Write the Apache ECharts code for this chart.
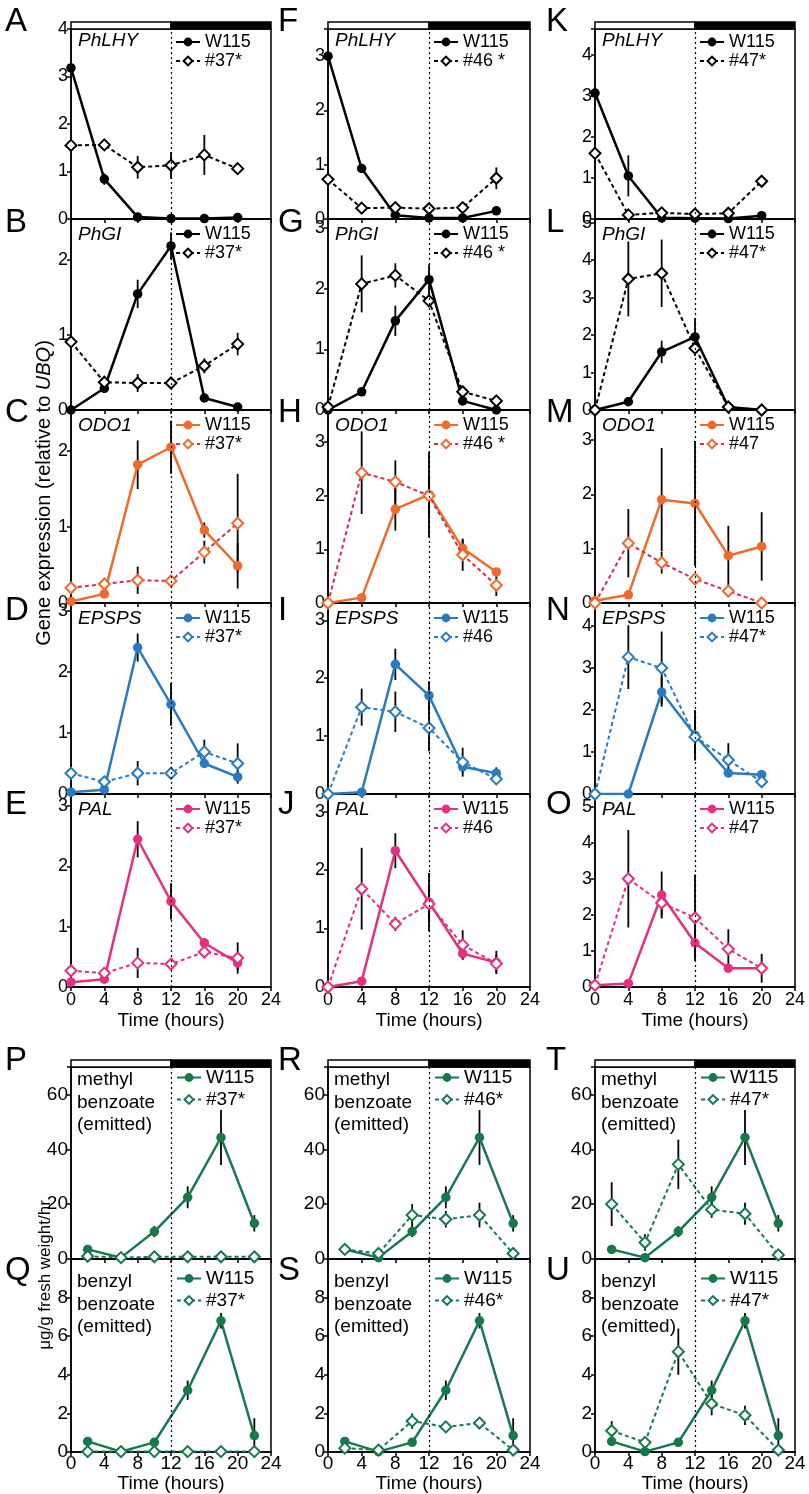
<!DOCTYPE html>
<html><head><meta charset="utf-8">
<script src="https://cdn.jsdelivr.net/npm/echarts/dist/echarts.min.js"></script>
<style>html,body{margin:0;padding:0;background:#fff}#c{width:809px;height:1494px}</style>
</head><body><div id="c"></div>
<script>
const FONT = "'Liberation Sans', Arial, Helvetica, sans-serif";

// ---------- data ----------
const hours = [0, 4, 8, 12, 16, 20];
const emitHours = [2, 6, 10, 14, 18, 22];
const xTicks = [0, 4, 8, 12, 16, 20, 24];
const dayNight = [0, 12, 24];

// A PhLHY #37*
const A_W115 = [3.18, 0.84, 0.04, 0.01, 0.01, 0.03];
const A_W115_err = [0.04, 0.12, 0.02, 0.01, 0.01, 0.02];
const A_MUT = [1.55, 1.56, 1.09, 1.13, 1.35, 1.06];
const A_MUT_err = [0.03, 0.05, 0.24, 0.28, 0.42, 0.05];
// B PhGI #37*
const B_W115 = [0.0, 0.29, 1.55, 2.19, 0.16, 0.04];
const B_W115_err = [0.01, 0.05, 0.19, 0.18, 0.03, 0.02];
const B_MUT = [0.91, 0.37, 0.36, 0.36, 0.59, 0.88];
const B_MUT_err = [0.03, 0.05, 0.12, 0.06, 0.1, 0.15];
// C ODO1 #37*
const C_W115 = [0.02, 0.12, 1.82, 2.05, 0.96, 0.49];
const C_W115_err = [0.01, 0.03, 0.32, 0.35, 0.1, 0.3];
const C_MUT = [0.2, 0.25, 0.3, 0.29, 0.67, 1.05];
const C_MUT_err = [0.02, 0.03, 0.18, 0.03, 0.15, 0.65];
// D EPSPS #37*
const D_W115 = [0.03, 0.07, 2.4, 1.47, 0.5, 0.28];
const D_W115_err = [0.01, 0.02, 0.23, 0.35, 0.07, 0.08];
const D_MUT = [0.34, 0.2, 0.34, 0.34, 0.69, 0.5];
const D_MUT_err = [0.03, 0.03, 0.2, 0.05, 0.2, 0.33];
// E PAL #37*
const E_W115 = [0.08, 0.13, 2.45, 1.42, 0.73, 0.4];
const E_W115_err = [0.02, 0.02, 0.3, 0.3, 0.08, 0.12];
const E_MUT = [0.27, 0.23, 0.4, 0.38, 0.58, 0.48];
const E_MUT_err = [0.02, 0.03, 0.25, 0.05, 0.1, 0.26];
// F PhLHY #46*
const F_W115 = [3.0, 0.93, 0.07, 0.02, 0.02, 0.15];
const F_W115_err = [0.03, 0.05, 0.02, 0.01, 0.01, 0.03];
const F_MUT = [0.73, 0.2, 0.21, 0.19, 0.21, 0.75];
const F_MUT_err = [0.03, 0.03, 0.03, 0.03, 0.05, 0.2];
// G PhGI #46*
const G_W115 = [0.0, 0.3, 1.47, 2.15, 0.15, 0.0];
const G_W115_err = [0.01, 0.03, 0.25, 0.25, 0.03, 0.01];
const G_MUT = [0.05, 2.08, 2.22, 1.8, 0.3, 0.15];
const G_MUT_err = [0.02, 0.47, 0.2, 0.08, 0.05, 0.08];
// H ODO1 #46*
const H_W115 = [0.0, 0.1, 1.75, 2.02, 1.02, 0.58];
const H_W115_err = [0.01, 0.02, 0.4, 0.8, 0.17, 0.05];
const H_MUT = [0.0, 2.43, 2.26, 2.0, 0.9, 0.33];
const H_MUT_err = [0.01, 0.77, 0.4, 0.38, 0.3, 0.2];
// I EPSPS #46
const I_W115 = [0.0, 0.03, 2.24, 1.7, 0.47, 0.36];
const I_W115_err = [0.01, 0.01, 0.27, 0.25, 0.1, 0.1];
const I_MUT = [0.0, 1.5, 1.42, 1.14, 0.55, 0.26];
const I_MUT_err = [0.01, 0.32, 0.35, 0.4, 0.25, 0.1];
// J PAL #46
const J_W115 = [0.0, 0.1, 2.33, 1.45, 0.57, 0.42];
const J_W115_err = [0.01, 0.02, 0.3, 0.5, 0.1, 0.2];
const J_MUT = [0.0, 1.68, 1.08, 1.42, 0.72, 0.4];
const J_MUT_err = [0.01, 0.7, 0.12, 0.3, 0.25, 0.15];
// K PhLHY #47*
const K_W115 = [3.07, 1.05, 0.03, 0.02, 0.01, 0.08];
const K_W115_err = [0.04, 0.5, 0.02, 0.01, 0.01, 0.03];
const K_MUT = [1.6, 0.1, 0.15, 0.12, 0.14, 0.92];
const K_MUT_err = [0.05, 0.03, 0.03, 0.03, 0.03, 0.05];
// L PhGI #47*
const L_W115 = [0.0, 0.22, 1.55, 1.95, 0.08, 0.0];
const L_W115_err = [0.01, 0.03, 0.3, 0.5, 0.03, 0.01];
const L_MUT = [0.0, 3.5, 3.65, 1.65, 0.08, 0.0];
const L_MUT_err = [0.01, 1.0, 0.9, 0.2, 0.03, 0.01];
// M ODO1 #47
const M_W115 = [0.04, 0.15, 1.9, 1.83, 0.87, 1.04];
const M_W115_err = [0.01, 0.03, 0.95, 1.15, 0.55, 0.63];
const M_MUT = [0.0, 1.1, 0.74, 0.44, 0.22, 0.0];
const M_MUT_err = [0.01, 0.63, 0.2, 0.05, 0.05, 0.01];
// N EPSPS #47*
const N_W115 = [0.0, 0.0, 2.43, 1.4, 0.5, 0.46];
const N_W115_err = [0.01, 0.01, 0.35, 0.6, 0.1, 0.1];
const N_MUT = [0.0, 3.26, 3.0, 1.36, 0.81, 0.29];
const N_MUT_err = [0.01, 0.76, 0.87, 0.4, 0.4, 0.1];
// O PAL #47
const O_W115 = [0.05, 0.1, 2.55, 1.22, 0.52, 0.52];
const O_W115_err = [0.01, 0.02, 0.65, 0.4, 0.05, 0.05];
const O_MUT = [0.05, 3.0, 2.33, 1.92, 1.05, 0.52];
const O_MUT_err = [0.01, 1.35, 0.35, 1.2, 0.55, 0.4];

// emitted volatiles (W115 control shared)
const MB_W115 = [3.5, 0.5, 10, 22.5, 44.3, 13];
const MB_W115_err = [0.5, 0.3, 2, 4, 10, 3];
const BB_W115 = [0.55, 0.02, 0.5, 3.2, 6.8, 0.85];
const BB_W115_err = [0.05, 0.02, 0.1, 0.5, 0.4, 0.9];
const P_MUT = [1.0, 0.5, 0.8, 0.8, 0.8, 0.8];
const P_MUT_err = [0.2, 0.1, 0.2, 0.2, 0.2, 0.2];
const Q_MUT = [0.02, 0.02, 0.02, 0.02, 0.02, 0.02];
const Q_MUT_err = [0, 0, 0, 0, 0, 0];
const R_MUT = [3.5, 2.0, 16, 14.5, 16, 2.0];
const R_MUT_err = [0.5, 0.5, 4, 3, 4.5, 0.5];
const S_MUT = [0.2, 0.1, 1.6, 1.3, 1.5, 0.1];
const S_MUT_err = [0.05, 0.05, 0.4, 0.3, 0.3, 0.05];
const T_MUT = [20, 6, 34.5, 18, 16.5, 1.5];
const T_MUT_err = [8, 3, 9, 3, 4, 0.5];
const U_MUT = [1.1, 0.5, 5.2, 2.5, 1.9, 0.1];
const U_MUT_err = [0.5, 0.2, 1.2, 0.6, 0.5, 0.05];

// tick labels
const ticks2 = [0, 1, 2];
const ticks3 = [0, 1, 2, 3];
const ticks4 = [0, 1, 2, 3, 4];
const ticks5 = [0, 1, 2, 3, 4, 5];
const ticksMB = [0, 20, 40, 60];
const ticksBB = [0, 2, 4, 6, 8];

// ---------- layout / styles ----------
const COLORS = {
  black: {w: '#000000', line: '#000000', mark: '#000000'},
  orange: {w: '#ee6a2d', line: '#d3304c', mark: '#ee6a2d'},
  blue: {w: '#2a7abf', line: '#2a7abf', mark: '#2a7abf'},
  pink: {w: '#e4307f', line: '#e4307f', mark: '#e4307f'},
  green: {w: '#16794a', line: '#16794a', mark: '#16794a'}
};
const colLeft = [71, 328, 595];
const colWidth = [200, 202, 200];
const upperTop = [29, 219, 410, 603, 794, 987];
const lowerTop = [1067, 1259, 1452];
const letterX = [5, 278, 546];
const upperLetterY = [21, 222, 412, 610, 804];
const lowerLetterY = [1060, 1270];

const panels = [
  {id:'A', gene:'PhLHY', line:'#37*', col:0, b:'up', row:0, max:4, iv:1, ticks:ticks4, sc:'black', w:A_W115, we:A_W115_err, m:A_MUT, me:A_MUT_err},
  {id:'B', gene:'PhGI', line:'#37*', col:0, b:'up', row:1, max:2.55, iv:1, ticks:ticks2, sc:'black', w:B_W115, we:B_W115_err, m:B_MUT, me:B_MUT_err},
  {id:'C', gene:'ODO1', line:'#37*', col:0, b:'up', row:2, max:2.54, iv:1, ticks:ticks2, sc:'orange', w:C_W115, we:C_W115_err, m:C_MUT, me:C_MUT_err},
  {id:'D', gene:'EPSPS', line:'#37*', col:0, b:'up', row:3, max:3.13, iv:1, ticks:ticks3, sc:'blue', w:D_W115, we:D_W115_err, m:D_MUT, me:D_MUT_err},
  {id:'E', gene:'PAL', line:'#37*', col:0, b:'up', row:4, max:3.2, iv:1, ticks:ticks3, sc:'pink', w:E_W115, we:E_W115_err, m:E_MUT, me:E_MUT_err},
  {id:'F', gene:'PhLHY', line:'#46 *', col:1, b:'up', row:0, max:3.5, iv:1, ticks:ticks3, sc:'black', w:F_W115, we:F_W115_err, m:F_MUT, me:F_MUT_err},
  {id:'G', gene:'PhGI', line:'#46 *', col:1, b:'up', row:1, max:3.15, iv:1, ticks:ticks3, sc:'black', w:G_W115, we:G_W115_err, m:G_MUT, me:G_MUT_err},
  {id:'H', gene:'ODO1', line:'#46 *', col:1, b:'up', row:2, max:3.6, iv:1, ticks:ticks3, sc:'orange', w:H_W115, we:H_W115_err, m:H_MUT, me:H_MUT_err},
  {id:'I', gene:'EPSPS', line:'#46', col:1, b:'up', row:3, max:3.3, iv:1, ticks:ticks3, sc:'blue', w:I_W115, we:I_W115_err, m:I_MUT, me:I_MUT_err},
  {id:'J', gene:'PAL', line:'#46', col:1, b:'up', row:4, max:3.3, iv:1, ticks:ticks3, sc:'pink', w:J_W115, we:J_W115_err, m:J_MUT, me:J_MUT_err},
  {id:'K', gene:'PhLHY', line:'#47*', col:2, b:'up', row:0, max:4.63, iv:1, ticks:ticks4, sc:'black', w:K_W115, we:K_W115_err, m:K_MUT, me:K_MUT_err},
  {id:'L', gene:'PhGI', line:'#47*', col:2, b:'up', row:1, max:5.1, iv:1, ticks:ticks5, sc:'black', w:L_W115, we:L_W115_err, m:L_MUT, me:L_MUT_err},
  {id:'M', gene:'ODO1', line:'#47', col:2, b:'up', row:2, max:3.55, iv:1, ticks:ticks3, sc:'orange', w:M_W115, we:M_W115_err, m:M_MUT, me:M_MUT_err},
  {id:'N', gene:'EPSPS', line:'#47*', col:2, b:'up', row:3, max:4.55, iv:1, ticks:ticks4, sc:'blue', w:N_W115, we:N_W115_err, m:N_MUT, me:N_MUT_err},
  {id:'O', gene:'PAL', line:'#47', col:2, b:'up', row:4, max:5.35, iv:1, ticks:ticks5, sc:'pink', w:O_W115, we:O_W115_err, m:O_MUT, me:O_MUT_err},
  {id:'P', gene:'methyl\nbenzoate\n(emitted)', line:'#37*', col:0, b:'low', row:0, max:70, iv:20, ticks:ticksMB, sc:'green', w:MB_W115, we:MB_W115_err, m:P_MUT, me:P_MUT_err},
  {id:'Q', gene:'benzyl\nbenzoate\n(emitted)', line:'#37*', col:0, b:'low', row:1, max:10, iv:2, ticks:ticksBB, sc:'green', w:BB_W115, we:BB_W115_err, m:Q_MUT, me:Q_MUT_err},
  {id:'R', gene:'methyl\nbenzoate\n(emitted)', line:'#46*', col:1, b:'low', row:0, max:70, iv:20, ticks:ticksMB, sc:'green', w:MB_W115, we:MB_W115_err, m:R_MUT, me:R_MUT_err},
  {id:'S', gene:'benzyl\nbenzoate\n(emitted)', line:'#46*', col:1, b:'low', row:1, max:10, iv:2, ticks:ticksBB, sc:'green', w:BB_W115, we:BB_W115_err, m:S_MUT, me:S_MUT_err},
  {id:'T', gene:'methyl\nbenzoate\n(emitted)', line:'#47*', col:2, b:'low', row:0, max:70, iv:20, ticks:ticksMB, sc:'green', w:MB_W115, we:MB_W115_err, m:T_MUT, me:T_MUT_err},
  {id:'U', gene:'benzyl\nbenzoate\n(emitted)', line:'#47*', col:2, b:'low', row:1, max:10, iv:2, ticks:ticksBB, sc:'green', w:BB_W115, we:BB_W115_err, m:U_MUT, me:U_MUT_err}
];

function errRender(params, api) {
  const x = api.value(0), lo = api.value(1), hi = api.value(2);
  if (hi - lo < 1e-6) return null;
  const a = api.coord([x, lo]), b = api.coord([x, hi]);
  return {type: 'line', shape: {x1: a[0], y1: a[1], x2: b[0], y2: b[1]}, style: {stroke: '#000', lineWidth: 1.8}};
}
function barRender(params, api) {
  const cs = params.coordSys;
  const x0 = api.coord([api.value(0), 0])[0], x1 = api.coord([api.value(1), 0])[0], x2 = api.coord([api.value(2), 0])[0];
  const h = 7, y = cs.y - h;
  return {type: 'group', children: [
    {type: 'rect', shape: {x: x0, y: y, width: x1 - x0, height: h}, style: {fill: '#fff', stroke: '#000', lineWidth: 1.5}},
    {type: 'rect', shape: {x: x1, y: y, width: x2 - x1, height: h}, style: {fill: '#000', stroke: '#000', lineWidth: 1.5}}
  ]};
}

const grids = [], xAxes = [], yAxes = [], series = [], legends = [], graphics = [];

panels.forEach((p, i) => {
  const up = p.b === 'up';
  const tops = up ? upperTop : lowerTop;
  const top = tops[p.row], bottom = tops[p.row + 1];
  const isBottom = p.row === tops.length - 2;
  const xs = up ? hours : emitHours;
  const c = COLORS[p.sc];
  const fs = up ? 18 : 19;
  grids.push({left: colLeft[p.col], top: top, width: colWidth[p.col], height: bottom - top,
    show: true, borderColor: '#000', borderWidth: 1.5, backgroundColor: 'transparent',
    containLabel: false, outerBoundsMode: 'none'});
  xAxes.push({gridIndex: i, type: 'value', min: 0, max: 24, interval: 4,
    axisLine: {show: true, onZero: false, lineStyle: {color: '#000', width: 1.5}},
    axisTick: {show: true, inside: false, length: 4, lineStyle: {color: '#000', width: 1.5}},
    axisLabel: {show: isBottom, fontSize: fs, color: '#000', fontFamily: FONT, margin: up ? 4 : 2,
      formatter: v => xTicks.includes(v) ? String(v) : ''},
    splitLine: {show: false},
    name: isBottom ? 'Time (hours)' : '', nameLocation: 'middle', nameGap: up ? 24 : 16,
    nameTextStyle: {fontSize: 19, color: '#000', fontFamily: FONT}});
  const ticks = p.ticks;
  yAxes.push({gridIndex: i, type: 'value', min: 0, max: p.max, interval: p.iv,
    axisLine: {show: true, onZero: false, lineStyle: {color: '#000', width: 1.5}},
    axisTick: {show: true, inside: false, length: 4, lineStyle: {color: '#000', width: 1.5}},
    axisLabel: {fontSize: fs, color: '#000', fontFamily: FONT, margin: 3,
      formatter: v => ticks.includes(v) ? String(v) : ''},
    splitLine: {show: false}});
  const eb = [];
  xs.forEach((h, k) => {
    eb.push([h, p.w[k] - p.we[k], p.w[k] + p.we[k]]);
    eb.push([h, p.m[k] - p.me[k], p.m[k] + p.me[k]]);
  });
  series.push({type: 'custom', xAxisIndex: i, yAxisIndex: i, data: eb, clip: true, z: 1, silent: true,
    encode: {x: 0, y: [1, 2]}, renderItem: errRender});
  const nameW = p.id + '|W115', nameM = p.id + '|' + p.line;
  series.push({type: 'line', name: nameW, xAxisIndex: i, yAxisIndex: i, z: 3,
    data: xs.map((h, k) => [h, p.w[k]]),
    symbol: 'circle', symbolSize: 9.5, showSymbol: true,
    lineStyle: {color: c.w, width: 2.5, type: 'solid'}, itemStyle: {color: c.w},
    markLine: {silent: true, symbol: ['none', 'none'], label: {show: false},
      lineStyle: {color: '#000', type: [2, 3], width: 1.2}, data: [{xAxis: 12}]}});
  series.push({type: 'line', name: nameM, xAxisIndex: i, yAxisIndex: i, z: 4,
    data: xs.map((h, k) => [h, p.m[k]]),
    symbol: 'emptyDiamond', symbolSize: 11, showSymbol: true,
    lineStyle: {color: c.line, width: 2, type: [4, 3]},
    itemStyle: {color: c.mark, borderColor: c.mark, borderWidth: 2}});
  if (p.row === 0) {
    series.push({type: 'custom', xAxisIndex: i, yAxisIndex: i, data: [[dayNight[0], dayNight[1], dayNight[2], 0]],
      clip: false, silent: true, z: 5, encode: {x: [0, 1, 2], y: 3}, renderItem: barRender});
  }
  const midX = colLeft[p.col] + colWidth[p.col] / 2;
  legends.push({orient: 'vertical', left: midX + (up ? 4 : 5),
    top: top + (up ? (p.row === 0 ? 4 : 6) : (p.row === 0 ? 1 : 10)),
    padding: 0, itemGap: up ? 1 : 3, itemWidth: 24, itemHeight: 11, selectedMode: false,
    data: [nameW, nameM], formatter: n => n.split('|')[1],
    textStyle: {fontSize: fs, color: '#000', fontFamily: FONT}});
  // panel letter
  graphics.push({type: 'text', left: letterX[p.col], top: (up ? upperLetterY[p.row] : lowerLetterY[p.row]) - 16,
    style: {text: p.id, font: '33px ' + FONT, fill: '#000'}});
  // gene / compound label
  if (up) {
    graphics.push({type: 'text', x: colLeft[p.col] + 7, y: top + (p.row === 0 ? 12 : 16),
      style: {text: p.gene, font: 'italic 19px ' + FONT, fill: '#000', textVerticalAlign: 'middle'}});
  } else {
    graphics.push({type: 'text', x: colLeft[p.col] + 6, y: top + (p.row === 0 ? 2 : 12),
      style: {text: p.gene, font: '19px ' + FONT, fill: '#000', lineHeight: 22.5, textVerticalAlign: 'top'}});
  }
});

// y-axis titles
graphics.push({type: 'text', x: 44, y: 493, rotation: Math.PI / 2,
  style: {text: '{n|Gene expression (relative to }{i|UBQ}{n|)}', textAlign: 'center', textVerticalAlign: 'middle',
    rich: {n: {fontSize: 20, fontFamily: FONT, fill: '#000'}, i: {fontSize: 20, fontFamily: FONT, fontStyle: 'italic', fill: '#000'}}}});
graphics.push({type: 'text', x: 45, y: 1275, rotation: Math.PI / 2,
  style: {text: 'μg/g fresh weight/hr', textAlign: 'center', textVerticalAlign: 'middle', font: '17px ' + FONT, fill: '#000'}});

const chart = echarts.init(document.getElementById('c'), null, {renderer: 'canvas', width: 809, height: 1494});
chart.setOption({
  animation: false,
  backgroundColor: '#fff',
  textStyle: {fontFamily: FONT},
  grid: grids, xAxis: xAxes, yAxis: yAxes, series: series, legend: legends, graphic: graphics
});
</script></body></html>
